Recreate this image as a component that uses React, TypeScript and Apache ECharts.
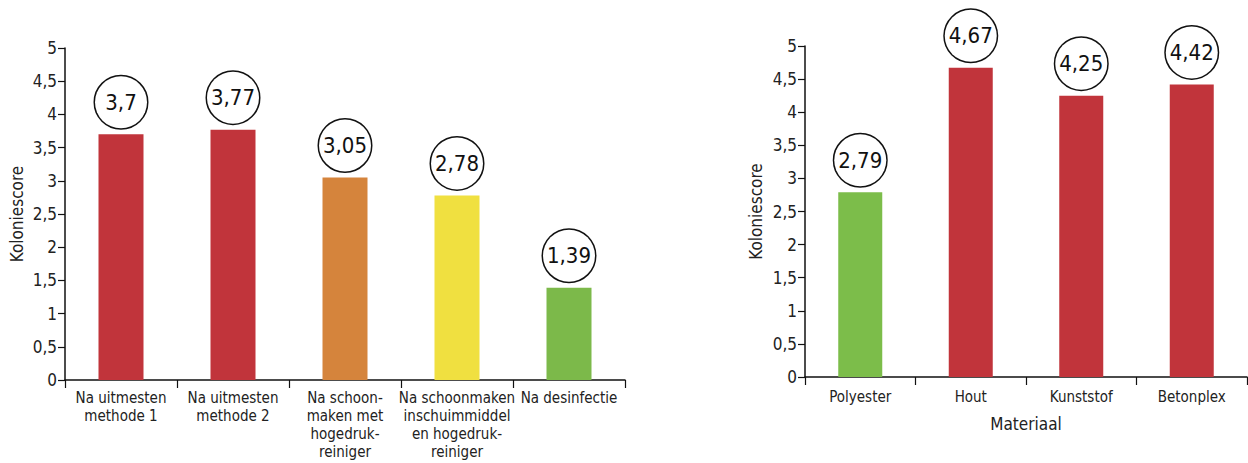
import React, { useEffect, useRef } from "react";
import * as echarts from "echarts";

const leftCategories = [
  "Na uitmesten\nmethode 1",
  "Na uitmesten\nmethode 2",
  "Na schoon-\nmaken met\nhogedruk-\nreiniger",
  "Na schoonmaken\ninschuimmiddel\nen hogedruk-\nreiniger",
  "Na desinfectie",
];
const leftValues = [3.7, 3.77, 3.05, 2.78, 1.39];
const leftColors = ["#c1343b", "#c1343b", "#d5843c", "#f0e040", "#7cb94a"];

const rightCategories = ["Polyester", "Hout", "Kunststof", "Betonplex"];
const rightValues = [2.79, 4.67, 4.25, 4.42];
const rightColors = ["#7cbd4a", "#c1343b", "#c1343b", "#c1343b"];

const yTicks = [0, 0.5, 1, 1.5, 2, 2.5, 3, 3.5, 4, 4.5, 5];

const FONT = "'DejaVu Sans Condensed', 'Liberation Sans Narrow', 'Open Sans', sans-serif";
const fmt = (v: number) => String(v).replace(".", ",");

export default function App() {
  const ref = useRef<HTMLDivElement>(null);
  useEffect(() => {
    document.body.style.margin = "0";
    const chart = echarts.init(ref.current!, null, { renderer: "svg" });
    const yAxisBase = (gridIndex: number) => ({
      type: "value",
      gridIndex,
      min: yTicks[0],
      max: yTicks[yTicks.length - 1],
      interval: 0.5,
      name: "Koloniescore",
      nameLocation: "middle",
      nameGap: 40,
      nameTextStyle: { fontFamily: FONT, fontSize: 17, color: "#222" },
      axisLine: { show: true, lineStyle: { color: "#111", width: 1.5 } },
      axisTick: { show: true, length: 7, lineStyle: { color: "#111", width: 1.2 } },
      axisLabel: {
        fontFamily: FONT,
        fontSize: 17,
        color: "#222",
        margin: 8,
        formatter: (v: number) => fmt(v),
      },
      splitLine: { show: false },
    });
    const xAxisBase = (gridIndex: number, data: string[]) => ({
      type: "category",
      gridIndex,
      data,
      axisLine: { show: true, lineStyle: { color: "#111", width: 1.5 } },
      axisTick: { show: true, length: 8, inside: false, lineStyle: { color: "#111", width: 1.2 } },
      axisLabel: {
        fontFamily: FONT,
        fontSize: 15,
        lineHeight: 18,
        color: "#222",
        margin: 9,
        interval: 0,
      },
    });
    const labelStyle = {
      show: true,
      position: "top",
      distance: 6,
      formatter: (p: any) => fmt(p.value),
      fontFamily: FONT,
      fontSize: 22,
      color: "#111",
      width: 52,
      height: 52,
      lineHeight: 52,
      align: "center",
      borderColor: "#111",
      borderWidth: 1.5,
      borderRadius: 26,
      backgroundColor: "#fff",
    };
    chart.setOption({
      animation: false,
      grid: [
        { left: 65, top: 48, width: 560, height: 332 },
        { left: 805, top: 46, width: 442, height: 331 },
      ],
      xAxis: [
        xAxisBase(0, leftCategories),
        {
          ...xAxisBase(1, rightCategories),
          name: "Materiaal",
          nameLocation: "middle",
          nameGap: 38,
          nameTextStyle: { fontFamily: FONT, fontSize: 17, color: "#222" },
          axisLabel: { fontFamily: FONT, fontSize: 15, color: "#222", margin: 12, interval: 0 },
        },
      ],
      yAxis: [yAxisBase(0), { ...yAxisBase(1), nameGap: 41 }],
      series: [
        {
          type: "bar",
          xAxisIndex: 0,
          yAxisIndex: 0,
          barWidth: 45,
          data: leftValues.map((v, i) => ({ value: v, itemStyle: { color: leftColors[i] } })),
          label: labelStyle,
        },
        {
          type: "bar",
          xAxisIndex: 1,
          yAxisIndex: 1,
          barWidth: 44,
          data: rightValues.map((v, i) => ({ value: v, itemStyle: { color: rightColors[i] } })),
          label: labelStyle,
        },
      ],
    });
    return () => chart.dispose();
  }, []);
  return <div ref={ref} style={{ width: 1248, height: 463 }} />;
}
